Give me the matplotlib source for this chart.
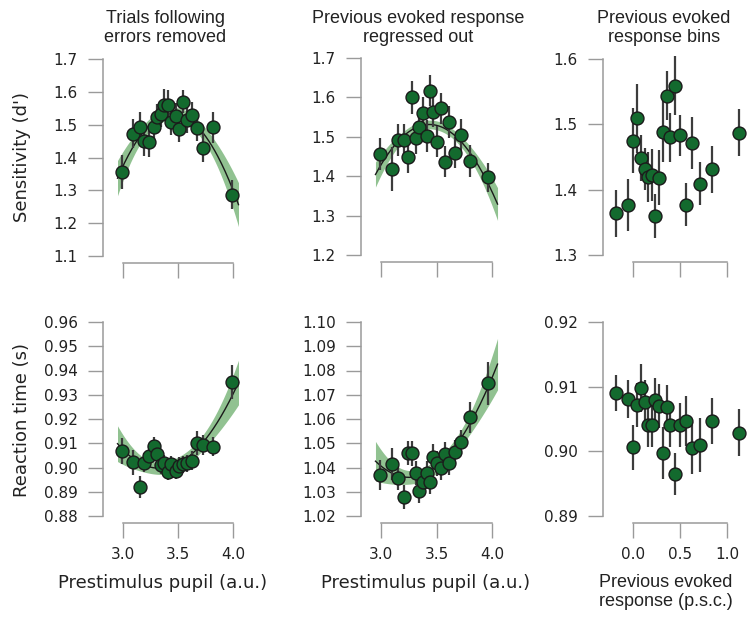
import numpy as np
import matplotlib
matplotlib.use("Agg")
import matplotlib.pyplot as plt

# ---------------- data ----------------
x_pupil_a = [2.99, 3.09, 3.155, 3.195, 3.237, 3.28, 3.308, 3.345, 3.375, 3.41,
             3.437, 3.48, 3.512, 3.546, 3.583, 3.626, 3.67, 3.73, 3.82, 3.99]
x_pupil_b = [2.99, 3.10, 3.156, 3.207, 3.246, 3.282, 3.312, 3.345, 3.376, 3.412,
             3.441, 3.471, 3.507, 3.538, 3.579, 3.615, 3.667, 3.724, 3.805, 3.967]
x_prev = [-0.181, -0.057, -0.003, 0.046, 0.085, 0.128, 0.156, 0.199, 0.237, 0.28,
          0.316, 0.358, 0.394, 0.447, 0.5, 0.56, 0.631, 0.713, 0.84, 1.124]

sens_removed = [1.355, 1.473, 1.494, 1.450, 1.448, 1.492, 1.522, 1.532, 1.560, 1.560,
                1.509, 1.526, 1.486, 1.570, 1.514, 1.529, 1.489, 1.430, 1.492, 1.287]
sens_removed_err = [0.052, 0.045, 0.045, 0.045, 0.045, 0.04, 0.04, 0.04, 0.048, 0.045,
                    0.04, 0.04, 0.04, 0.035, 0.04, 0.04, 0.04, 0.045, 0.048, 0.045]

sens_regressed = [1.456, 1.418, 1.492, 1.492, 1.448, 1.600, 1.496, 1.524, 1.561, 1.502,
                  1.617, 1.564, 1.488, 1.572, 1.437, 1.538, 1.460, 1.505, 1.439, 1.397]
sens_regressed_err = [0.04, 0.055, 0.04, 0.04, 0.04, 0.042, 0.04, 0.04, 0.04, 0.04,
                      0.04, 0.04, 0.04, 0.04, 0.04, 0.04, 0.04, 0.04, 0.04, 0.037]

sens_bins = [1.364, 1.377, 1.475, 1.509, 1.448, 1.432, 1.419, 1.422, 1.360, 1.418,
             1.489, 1.544, 1.480, 1.559, 1.483, 1.377, 1.471, 1.409, 1.431, 1.487]
sens_bins_err = [0.036, 0.04, 0.05, 0.053, 0.035, 0.032, 0.038, 0.04, 0.034, 0.042,
                 0.047, 0.037, 0.037, 0.045, 0.032, 0.033, 0.04, 0.033, 0.036, 0.036]

rt_removed = [0.9068, 0.9021, 0.8918, 0.9020, 0.9047, 0.9090, 0.9054, 0.9010, 0.9017, 0.8983,
              0.9014, 0.8986, 0.9007, 0.9014, 0.9017, 0.9028, 0.9102, 0.9093, 0.9086, 0.9354]
rt_removed_err = [0.0055, 0.005, 0.0045, 0.004, 0.004, 0.0035, 0.0035, 0.0035, 0.0035, 0.0035,
                  0.0035, 0.0035, 0.0035, 0.0035, 0.0035, 0.004, 0.005, 0.004, 0.004, 0.007]

rt_regressed = [1.0369, 1.0414, 1.0358, 1.0277, 1.0461, 1.0458, 1.0376, 1.0304, 1.0341, 1.0376,
                1.0341, 1.0445, 1.0417, 1.0400, 1.0456, 1.0420, 1.0465, 1.0504, 1.0607, 1.0747]
rt_regressed_err = [0.006, 0.0065, 0.005, 0.005, 0.005, 0.005, 0.005, 0.005, 0.005, 0.005,
                    0.005, 0.005, 0.005, 0.005, 0.005, 0.005, 0.005, 0.005, 0.0065, 0.009]

rt_bins = [0.9090, 0.9081, 0.9006, 0.9071, 0.9098, 0.9077, 0.9041, 0.9041, 0.9080, 0.9070,
           0.8997, 0.9068, 0.9040, 0.8965, 0.9040, 0.9047, 0.9005, 0.9010, 0.9047, 0.9029]
rt_bins_err = [0.0028, 0.003, 0.0035, 0.0034, 0.0037, 0.0034, 0.0034, 0.0034, 0.0034, 0.0034,
               0.004, 0.0034, 0.0034, 0.0032, 0.0034, 0.0038, 0.004, 0.0042, 0.0035, 0.0036]

titles = ["Trials following\nerrors removed",
          "Previous evoked response\nregressed out",
          "Previous evoked\nresponse bins"]
pupil_ticks = [3.0, 3.5, 4.0]
prev_ticks = [0.0, 0.5, 1.0]
sens_ticks_a = [1.1, 1.2, 1.3, 1.4, 1.5, 1.6, 1.7]
sens_ticks_b = [1.2, 1.3, 1.4, 1.5, 1.6, 1.7]
sens_ticks_c = [1.3, 1.4, 1.5, 1.6]
rt_ticks_a = [0.88, 0.89, 0.90, 0.91, 0.92, 0.93, 0.94, 0.95, 0.96]
rt_ticks_b = [1.02, 1.03, 1.04, 1.05, 1.06, 1.07, 1.08, 1.09, 1.10]
rt_ticks_c = [0.89, 0.90, 0.91, 0.92]

# ---------------- style ----------------
W, H = 752, 617
fig = plt.figure(figsize=(W / 100, H / 100), dpi=100)

FACE = "#136a2e"
EDGE = "#1b1b1b"
ERRC = "#3c3c3c"
BAND = "#91c291"
SPINE = "#9a9a9a"


def make_ax(left, right, top, bottom):
    return fig.add_axes([left / W, 1 - bottom / H, (right - left) / W, (bottom - top) / H])


def style(ax, xticks, yticks, xlim, ylim, xlabels=True, yfmt="%.1f"):
    ax.set_xlim(*xlim)
    ax.set_ylim(*ylim)
    for s in ["top", "right"]:
        ax.spines[s].set_visible(False)
    for s in ["left", "bottom"]:
        ax.spines[s].set_position(("outward", 5))
        ax.spines[s].set_color(SPINE)
        ax.spines[s].set_linewidth(1.1)
    ax.spines["left"].set_bounds(yticks[0], yticks[-1])
    ax.spines["bottom"].set_bounds(xticks[0], xticks[-1])
    ax.set_xticks(xticks)
    ax.set_yticks(yticks)
    ax.set_yticklabels([yfmt % v for v in yticks])
    if xlabels:
        ax.set_xticklabels(["%.1f" % v for v in xticks])
    else:
        ax.set_xticklabels([])
    ax.tick_params(axis="both", direction="out", length=11, width=1.0, color=SPINE,
                   labelsize=11, labelcolor="#222222")
    ax.tick_params(axis="y", pad=7)
    ax.tick_params(axis="x", pad=6)
    ax.patch.set_alpha(0)


def points(ax, x, y, e):
    ax.errorbar(x, y, yerr=e, fmt="none", ecolor=ERRC, elinewidth=1.6, capsize=0,
                zorder=3, clip_on=False)
    ax.plot(x, y, "o", ms=9.3, mfc=FACE, mec=EDGE, mew=1.0, zorder=4, clip_on=False)


def fit(ax, x, y, z=1.96, lo=2.95, hi=4.05):
    x = np.asarray(x)
    y = np.asarray(y)
    coef, cov = np.polyfit(x, y, 2, cov=True)
    g = np.linspace(lo, hi, 200)
    V = np.vander(g, 3)
    f = V @ coef
    se = np.sqrt(np.einsum("ij,jk,ik->i", V, cov, V))
    ax.fill_between(g, f - z * se, f + z * se, color=BAND, lw=0, zorder=1)
    ax.plot(g, f, color="#1a1a1a", lw=1.0, zorder=2)


# positions (pixels)
pupil_lim = (2.88, 4.12)
prev_lim = (-0.25, 1.15)

ax1 = make_ax(109.8, 246.2, 59, 256)
fit(ax1, x_pupil_a, sens_removed)
points(ax1, x_pupil_a, sens_removed, sens_removed_err)
style(ax1, pupil_ticks, sens_ticks_a, pupil_lim, (1.1, 1.7), xlabels=False)

ax2 = make_ax(367.7, 505.3, 58, 255)
fit(ax2, x_pupil_b, sens_regressed, z=0.8)
points(ax2, x_pupil_b, sens_regressed, sens_regressed_err)
style(ax2, pupil_ticks, sens_ticks_b, pupil_lim, (1.2, 1.7), xlabels=False)

ax3 = make_ax(609.5, 741.1, 59, 255)
points(ax3, x_prev, sens_bins, sens_bins_err)
style(ax3, prev_ticks, sens_ticks_c, prev_lim, (1.3, 1.6), xlabels=False)

ax4 = make_ax(109.8, 246.2, 322, 516)
fit(ax4, x_pupil_a, rt_removed)
points(ax4, x_pupil_a, rt_removed, rt_removed_err)
style(ax4, pupil_ticks, rt_ticks_a, pupil_lim, (0.88, 0.96), yfmt="%.2f")

ax5 = make_ax(367.7, 505.3, 322, 516)
fit(ax5, x_pupil_b, rt_regressed)
points(ax5, x_pupil_b, rt_regressed, rt_regressed_err)
style(ax5, pupil_ticks, rt_ticks_b, pupil_lim, (1.02, 1.10), yfmt="%.2f")

ax6 = make_ax(609.5, 741.1, 322, 516)
points(ax6, x_prev, rt_bins, rt_bins_err)
style(ax6, prev_ticks, rt_ticks_c, prev_lim, (0.89, 0.92), yfmt="%.2f")

# titles
TF = ["Liberation Sans", "DejaVu Sans"]
for xc, t in zip([165, 418, 664], titles):
    fig.text(xc / W, 1 - 28 / H, t, ha="center", va="center", fontsize=13,
             family=TF, color="#222222", linespacing=1.15)

# y labels
fig.text(22 / W, 1 - 157 / H, "Sensitivity (d')", rotation=90, ha="center", va="center",
         fontsize=13, color="#222222")
fig.text(22 / W, 1 - 420 / H, "Reaction time (s)", rotation=90, ha="center", va="center",
         fontsize=13, color="#222222")

# x labels
fig.text(163 / W, 1 - 583 / H, "Prestimulus pupil (a.u.)", ha="center", va="center",
         fontsize=13, color="#222222")
fig.text(426 / W, 1 - 583 / H, "Prestimulus pupil (a.u.)", ha="center", va="center",
         fontsize=13, color="#222222")
fig.text(666 / W, 1 - 592 / H, "Previous evoked\nresponse (p.s.c.)", ha="center",
         va="center", fontsize=13, family=TF, color="#222222", linespacing=1.2)

fig.savefig("out.png", dpi=100, facecolor="white")
